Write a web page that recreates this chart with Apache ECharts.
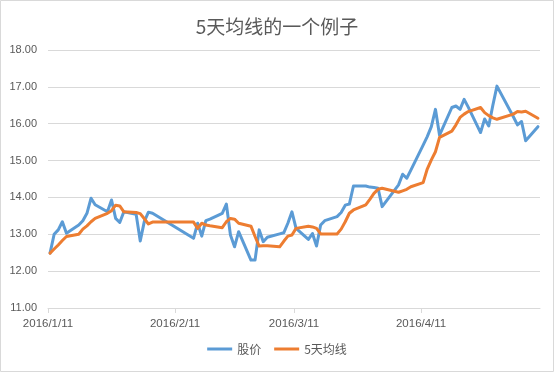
<!DOCTYPE html>
<html><head><meta charset="utf-8">
<script src="https://cdn.jsdelivr.net/npm/echarts@6/dist/echarts.min.js"></script>
<style>html,body{margin:0;padding:0;background:#fff}#c{width:554px;height:372px}</style>
</head><body><div id="c"></div>
<script>
const chartTitle = '5天均线的一个例子';
const seriesNames = ['股价', '5天均线'];
const dates = [
  '2016-01-11','2016-01-12','2016-01-13','2016-01-14','2016-01-15',
  '2016-01-18','2016-01-19','2016-01-20','2016-01-21','2016-01-22',
  '2016-01-25','2016-01-26','2016-01-27','2016-01-28','2016-01-29',
  '2016-02-01','2016-02-02','2016-02-03','2016-02-04','2016-02-05',
  '2016-02-15','2016-02-16','2016-02-17','2016-02-18','2016-02-19',
  '2016-02-22','2016-02-23','2016-02-24','2016-02-25','2016-02-26',
  '2016-02-29','2016-03-01','2016-03-02','2016-03-03','2016-03-04',
  '2016-03-07','2016-03-08','2016-03-09','2016-03-10','2016-03-11',
  '2016-03-14','2016-03-15','2016-03-16','2016-03-17','2016-03-18',
  '2016-03-21','2016-03-22','2016-03-23','2016-03-24','2016-03-25',
  '2016-03-28','2016-03-29','2016-03-30','2016-03-31','2016-04-01',
  '2016-04-05','2016-04-06','2016-04-07','2016-04-08',
  '2016-04-11','2016-04-12','2016-04-13','2016-04-14','2016-04-15',
  '2016-04-18','2016-04-19','2016-04-20','2016-04-21','2016-04-22',
  '2016-04-25','2016-04-26','2016-04-27','2016-04-28','2016-04-29',
  '2016-05-03','2016-05-04','2016-05-05','2016-05-06',
  '2016-05-09'
];
const price = [
  12.49,13.00,13.12,13.34,13.03,
  13.25,13.37,13.57,13.98,13.80,
  13.61,13.93,13.43,13.32,13.61,
  13.54,12.82,13.35,13.60,13.57,
  12.89,13.30,12.95,13.37,13.41,
  13.57,13.82,12.98,12.66,13.07,
  12.30,12.30,13.12,12.80,12.92,
  13.01,13.04,13.30,13.61,13.16,
  12.86,13.02,12.68,13.25,13.37,
  13.48,13.59,13.79,13.82,14.31,
  14.31,14.28,14.27,14.25,13.75,
  14.34,14.63,14.52,14.74,
  15.42,15.65,15.92,16.39,15.69,
  16.44,16.48,16.39,16.66,16.45,
  15.76,16.13,15.94,16.50,17.02,
  16.19,15.97,16.06,15.54,
  15.92
];
const ma5 = [
  12.49,12.60,12.71,12.83,12.94,
  13.00,13.14,13.23,13.34,13.43,
  13.57,13.64,13.79,13.77,13.61,
  13.59,13.56,13.42,13.28,13.33,
  13.33,13.16,13.30,13.25,13.23,
  13.18,13.34,13.43,13.41,13.30,
  13.22,12.94,12.68,12.69,12.69,
  12.66,12.81,12.95,12.98,13.16,
  13.22,13.20,13.16,13.01,13.01,
  13.01,13.14,13.34,13.57,13.66,
  13.80,13.95,14.11,14.22,14.25,
  14.14,14.18,14.22,14.29,
  14.40,14.77,15.02,15.24,15.63,
  15.80,15.97,16.17,16.26,16.33,
  16.44,16.30,16.22,16.16,16.12,
  16.26,16.33,16.32,16.34,
  16.15
];
const tickLabels = ['2016/1/11','2016/2/11','2016/3/11','2016/4/11'];
const xStart = '2016/1/11', xEnd = '2016/5/10';
const yMin = 11, yMax = 18, yStep = 1;

function ts(s) { const p = s.split(/[-\/]/).map(Number); return Date.UTC(p[0], p[1] - 1, p[2]); }
const HALF_DAY = 12 * 3600 * 1000;
const tickVals = tickLabels.map(ts);
function fmtDate(v) { const d = new Date(v); return d.getUTCFullYear() + '/' + (d.getUTCMonth() + 1) + '/' + d.getUTCDate(); }

const chart = echarts.init(document.getElementById('c'), null, { renderer: 'canvas' });
const labelColor = '#595959';
const latin = "'Liberation Sans', 'Noto Sans CJK SC', sans-serif";
chart.setOption({
  animation: false,
  backgroundColor: '#fff',
  title: {
    text: chartTitle, left: 'center', top: 12,
    textStyle: { fontSize: 19, fontWeight: 'normal', color: labelColor, fontFamily: "'Noto Sans CJK SC', sans-serif" }
  },
  graphic: [{
    type: 'rect', shape: { x: 0.5, y: 0.5, width: 553, height: 371 },
    style: { fill: null, stroke: '#d9d9d9', lineWidth: 1 }, silent: true
  }],
  legend: {
    bottom: 12, left: 'center', itemWidth: 25, itemHeight: 3, itemGap: 13,
    textStyle: { fontSize: 12, color: labelColor, fontFamily: "'Noto Sans CJK SC', sans-serif" },
    data: [{ name: seriesNames[0], icon: 'rect' }, { name: seriesNames[1], icon: 'rect' }]
  },
  grid: { left: 48, right: 14, top: 50, bottom: 64, containLabel: false, outerBoundsMode: 'none' },
  xAxis: {
    type: 'value', min: ts(xStart), max: ts(xEnd), scale: true,
    axisLine: { show: true, onZero: false, lineStyle: { color: '#d9d9d9', width: 1 } },
    axisTick: { show: true, customValues: tickVals, length: 5, lineStyle: { color: '#d9d9d9' } },
    axisLabel: { customValues: tickVals, formatter: v => fmtDate(v), color: labelColor, fontSize: 11.5, fontFamily: latin, margin: 10 },
    splitLine: { show: false }
  },
  yAxis: {
    type: 'value', min: yMin, max: yMax, interval: yStep,
    axisLine: { show: false }, axisTick: { show: false },
    axisLabel: { formatter: v => v.toFixed(2), color: labelColor, fontSize: 11, fontFamily: latin, margin: 11 },
    splitLine: { lineStyle: { color: '#d9d9d9', width: 1 } }
  },
  series: [
    {
      name: seriesNames[0], type: 'line', showSymbol: false, symbol: 'none',
      data: dates.map((d, i) => [ts(d) + HALF_DAY, price[i]]),
      itemStyle: { color: '#5B9BD5' },
      lineStyle: { color: '#5B9BD5', width: 3, join: 'round', cap: 'round' }, z: 2
    },
    {
      name: seriesNames[1], type: 'line', showSymbol: false, symbol: 'none',
      data: dates.map((d, i) => [ts(d) + HALF_DAY, ma5[i]]),
      itemStyle: { color: '#ED7D31' },
      lineStyle: { color: '#ED7D31', width: 3, join: 'round', cap: 'round' }, z: 3
    }
  ]
});
</script></body></html>
